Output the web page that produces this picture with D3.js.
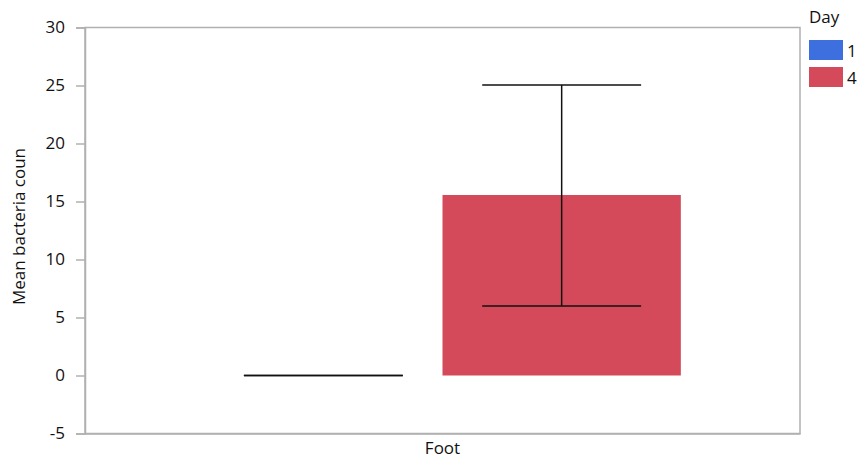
<!DOCTYPE html>
<html><head><meta charset="utf-8">
<script src="https://cdn.jsdelivr.net/npm/d3@7"></script>
<style>body{margin:0;background:#fff}text{font-family:"Open Sans",sans-serif;fill:#111}</style>
</head><body><svg id="c" width="859" height="461"></svg>
<script>
const categories = ["Foot"];
const days = ["1", "4"];
const means = [0, 15.56];
const errLow = [0, 6.0];
const errHigh = [0, 25.05];
const yTicks = [-5, 0, 5, 10, 15, 20, 25, 30];
const colors = ["#3E6FDF", "#D44A5A"];

const svg = d3.select("#c");
const m = {l: 85, r: 800, t: 27.5, b: 433.5};
const y = d3.scaleLinear().domain([-5, 30]).range([m.b, m.t]);
const x0 = d3.scaleBand().domain(categories).range([m.l, m.r]).paddingInner(0).paddingOuter(0.25);
const x1 = d3.scaleBand().domain(days).range([0, x0.bandwidth()]).padding(0);

// frame
svg.append("rect").attr("x", m.l).attr("y", m.t).attr("width", m.r - m.l).attr("height", m.b - m.t)
  .attr("fill", "none").attr("stroke", "#b0b0b0").attr("stroke-width", 1.5);

// y axis
const ya = svg.append("g").attr("transform", `translate(${m.l},0)`)
  .call(d3.axisLeft(y).tickValues(yTicks).tickSize(9).tickPadding(11).tickFormat(d => String(d)));
ya.selectAll("path,line").attr("stroke", "#b0b0b0").attr("stroke-width", 1.5);
ya.selectAll("text").style("font-size", "17px").attr("fill", "#111");

// x axis
const xa = svg.append("g").attr("transform", `translate(0,${m.b})`)
  .call(d3.axisBottom(x0).tickSize(0).tickPadding(8));
xa.selectAll("path,line").attr("stroke", "#b0b0b0").attr("stroke-width", 1.5);
xa.selectAll("text").style("font-size", "17px").attr("fill", "#111");

// bars
const g = svg.append("g").attr("transform", `translate(${x0("Foot")},0)`);
days.forEach((d, i) => {
  const bx = x1(d), bw = x1.bandwidth();
  g.append("rect").attr("x", bx).attr("width", bw)
    .attr("y", y(Math.max(0, means[i]))).attr("height", Math.abs(y(means[i]) - y(0)))
    .attr("fill", colors[i]);
  const cx = bx + bw / 2, cw = bw * 2 / 3;
  g.append("line").attr("x1", cx).attr("x2", cx).attr("y1", y(errLow[i])).attr("y2", y(errHigh[i]))
    .attr("stroke", "#111").attr("stroke-width", 1.5);
  [errLow[i], errHigh[i]].forEach(v => {
    g.append("line").attr("x1", cx - cw / 2).attr("x2", cx + cw / 2).attr("y1", y(v)).attr("y2", y(v))
      .attr("stroke", "#111").attr("stroke-width", 1.5);
  });
});

// y label
svg.append("text").attr("transform", `translate(25,${(m.t + m.b) / 2 - 4}) rotate(-90)`)
  .attr("text-anchor", "middle").style("font-size", "17px").text("Mean bacteria coun");

// legend
svg.append("text").attr("x", 809).attr("y", 23).style("font-size", "17px").text("Day");
days.forEach((d, i) => {
  svg.append("rect").attr("x", 809).attr("y", 40 + i * 27).attr("width", 34).attr("height", 20).attr("fill", colors[i]);
  svg.append("text").attr("x", 847).attr("y", 57 + i * 27).style("font-size", "17px").text(d);
});
</script></body></html>
